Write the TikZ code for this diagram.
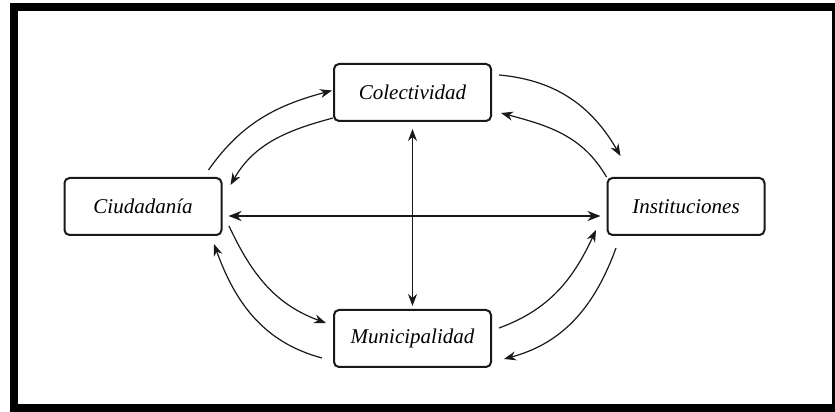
\documentclass[tikz,border=0pt]{standalone}
\usepackage{fontspec}
\setmainfont{Liberation Serif}
\usepackage{tikz}
\usetikzlibrary{arrows.meta,positioning,calc}
\definecolor{inkframe}{RGB}{0,0,0}
\definecolor{inkbox}{RGB}{25,25,25}

\begin{document}
\begin{tikzpicture}[x=0.5pt,y=0.5pt,
  bx/.style={draw=inkbox,line width=1pt,rounded corners=2.5pt,minimum width=78.5pt,
             minimum height=28.5pt,inner sep=0pt,font=\fontsize{10.5}{12}\selectfont\itshape},
  cv/.style={-{Stealth[length=6pt,width=4.5pt]},line width=0.6pt,draw=inkbox},
  harr/.style={{Stealth[length=6.5pt,width=5pt]}-{Stealth[length=6.5pt,width=5pt]},line width=1.2pt,draw=inkbox},
  varr/.style={{Stealth[length=6pt,width=4.5pt]}-{Stealth[length=6pt,width=4.5pt]},line width=0.6pt,draw=inkbox}]
  \useasboundingbox (0,0) rectangle (835,412);
  \fill[white] (0,0) rectangle (835,412);
  \draw[draw=inkframe,line width=4pt] (13.5,4) rectangle (836,405);
  % the four actors
  \node[bx] (col) at (412.5,319.5) {Colectividad};
  \node[bx] (ciu) at (143,205.5) {Ciudadanía};
  \node[bx] (ins) at (686,205.5) {Instituciones};
  \node[bx] (mun) at (412.5,73.5) {Municipalidad};
  % straight links
  \draw[harr] ($(ciu.east)+(6,-9.5)$) -- ($(ins.west)+(-6,-9.5)$);
  \draw[varr] ($(col.south)+(0,-7)$) -- ($(mun.north)+(0,3)$);
  % curved links, two per quarter
  \draw[cv] ($(ciu.north east)+(-14,7)$) to[out=55,in=195] ($(col.west)+(-1,2)$);
  \draw[cv] ($(col.south west)+(0,4)$) to[out=195,in=60] ($(ciu.north east)+(8,-8)$);
  \draw[cv] ($(col.north east)+(7,-12)$) to[out=-5,in=120] ($(ins.north west)+(14,21)$);
  \draw[cv] (ins.north west) to[out=120,in=-15] ($(col.south east)+(9,9)$);
  \draw[cv] ($(ciu.south east)+(6.5,10)$) to[out=-65,in=160] ($(mun.north west)+(-7,-14)$);
  \draw[cv] ($(mun.south west)+(-11,10)$) to[out=165,in=-70] ($(ciu.south east)+(-8.5,-8)$);
  \draw[cv] ($(mun.east)+(7,10.5)$) to[out=20,in=-115] ($(ins.south west)+(-10.5,6)$);
  \draw[cv] ($(ins.south west)+(9.5,-12)$) to[out=-110,in=15] ($(mun.south east)+(12,9)$);
\end{tikzpicture}
\end{document}
